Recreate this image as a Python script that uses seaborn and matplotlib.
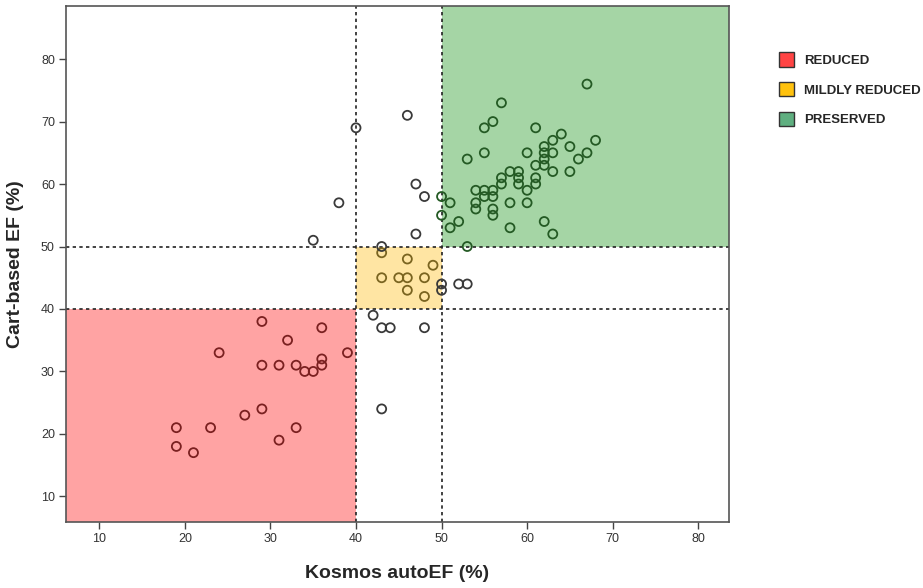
import matplotlib
matplotlib.use("Agg")
import matplotlib.pyplot as plt
from matplotlib.patches import Patch, Rectangle
import seaborn as sns
import pandas as pd

sns.set_theme(style="white")
plt.rcParams["font.family"] = ["Liberation Sans", "DejaVu Sans"]

# Data
kosmos_ef = [29, 36, 32, 24, 39, 36, 29, 31, 33, 36, 34, 35, 29, 27, 19, 23, 33, 31, 19, 21,
             42, 43, 44, 48, 43,
             43, 46, 49, 43, 45, 46, 48, 46, 48,
             50, 50, 43, 52, 53,
             46, 40, 47, 48, 50, 50, 38, 35, 47,
             67, 57, 55, 56, 61, 64, 63, 68, 62, 65, 55, 60, 62, 63, 67, 66, 62, 53,
             61, 62, 63, 65, 58, 59, 57, 59, 61, 57, 59, 61, 60, 54, 55, 56, 55, 56,
             54, 54, 56, 56, 58, 60, 51, 52, 51, 58, 62, 63, 53]
cart_ef = [38, 37, 35, 33, 33, 32, 31, 31, 31, 31, 30, 30, 24, 23, 21, 21, 21, 19, 18, 17,
           39, 37, 37, 37, 24,
           49, 48, 47, 45, 45, 45, 45, 43, 42,
           44, 43, 50, 44, 44,
           71, 69, 60, 58, 58, 55, 57, 51, 52,
           76, 73, 69, 70, 69, 68, 67, 67, 66, 66, 65, 65, 65, 65, 65, 64, 64, 64,
           63, 63, 62, 62, 62, 62, 61, 61, 61, 60, 60, 60, 59, 59, 59, 59, 58, 58,
           57, 56, 56, 55, 57, 57, 57, 54, 53, 53, 54, 52, 50]

categories = ["REDUCED", "MILDLY REDUCED", "PRESERVED"]
legend_colors = ["#FF4444", "#FFC20E", "#5FAF80"]
zone_fills = ["#FFA3A3", "#FFE5A3", "#A5D5A5"]
edge_colors = {"REDUCED": "#7A2020", "MILDLY REDUCED": "#7A6420",
               "PRESERVED": "#245A24", "OTHER": "#3A3A3A"}
x_ticks = [10, 20, 30, 40, 50, 60, 70, 80]
y_ticks = [10, 20, 30, 40, 50, 60, 70, 80]
cuts = [40, 50]


def zone(x, y):
    if x < 40 and y < 40:
        return "REDUCED"
    if 40 <= x < 50 and 40 <= y < 50:
        return "MILDLY REDUCED"
    if x >= 50 and y >= 50:
        return "PRESERVED"
    return "OTHER"


df = pd.DataFrame({"kosmos": kosmos_ef, "cart": cart_ef})
df["zone"] = [zone(a, b) for a, b in zip(df.kosmos, df.cart)]

fig = plt.figure(figsize=(9.23, 5.88), dpi=100)
ax = fig.add_axes([66 / 923, 1 - 522 / 588, (729 - 66) / 923, (522 - 6) / 588])
xlim = (6.1, 83.6)
ylim = (5.9, 88.5)

# zone rectangles
ax.add_patch(Rectangle((xlim[0], ylim[0]), 40 - xlim[0], 40 - ylim[0],
                       facecolor=zone_fills[0], edgecolor="none", zorder=0))
ax.add_patch(Rectangle((40, 40), 10, 10, facecolor=zone_fills[1], edgecolor="none", zorder=0))
ax.add_patch(Rectangle((50, 50), xlim[1] - 50, ylim[1] - 50,
                       facecolor=zone_fills[2], edgecolor="none", zorder=0))

for c in cuts:
    ax.axvline(c, color="#222222", lw=1.2, ls=(0, (2, 2)), zorder=1)
    ax.axhline(c, color="#222222", lw=1.2, ls=(0, (2, 2)), zorder=1)

for z, sub in df.groupby("zone"):
    sns.scatterplot(data=sub, x="kosmos", y="cart", ax=ax, s=42,
                    facecolors="none", edgecolor=edge_colors[z], linewidth=1.3,
                    zorder=3, legend=False)

ax.set_xlim(*xlim)
ax.set_ylim(*ylim)
ax.set_xticks(x_ticks)
ax.set_yticks(y_ticks)
ax.tick_params(axis="both", direction="out", length=5, width=1, color="#444444",
               labelsize=9, labelcolor="#333333", bottom=True, left=True, pad=3)
for sp in ax.spines.values():
    sp.set_color("#555555")
    sp.set_linewidth(1.2)

ax.set_xlabel("Kosmos autoEF (%)", fontsize=14, fontweight="bold", labelpad=14)
ax.set_ylabel("Cart-based EF (%)", fontsize=14, fontweight="bold", labelpad=12)

handles = [Patch(facecolor=c, edgecolor="#333333", linewidth=1) for c in legend_colors]
fig.legend(handles, categories, loc="upper left", bbox_to_anchor=(0.838, 0.92),
           frameon=False, prop={"weight": "bold", "size": 9.5},
           handlelength=1.15, handleheight=1.3, handletextpad=0.75, labelspacing=1.15,
           borderaxespad=0)

fig.savefig("out.png", dpi=100)
